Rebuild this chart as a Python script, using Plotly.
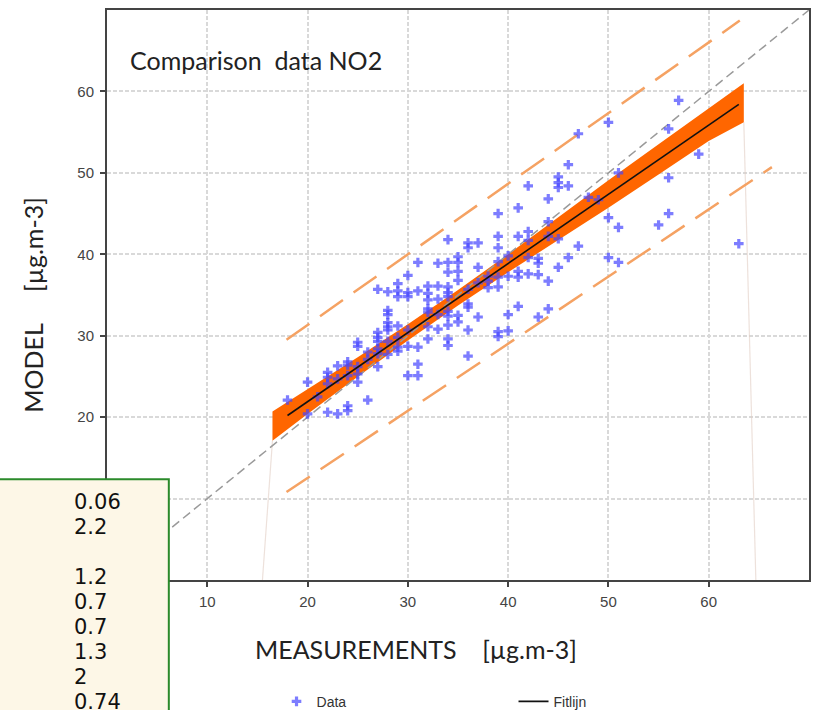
"""
Scatter of modelled vs measured NO2 with fit line, confidence band and prediction lines
"""

import plotly.graph_objects as go

## data
meas = [18,
        20, 20,
        21,
        22, 22, 22, 22,
        23, 23, 23,
        24, 24, 24, 24, 24,
        25, 25, 25, 25, 25,
        26, 26, 26,
        27, 27, 27, 27, 27, 27, 27,
        28, 28, 28, 28, 28, 28, 28, 28,
        29, 29, 29, 29, 29, 29, 29,
        30, 30, 30, 30, 30, 30,
        31, 31, 31, 31, 31,
        32, 32, 32, 32, 32, 32, 32,
        33, 33, 33, 33, 33,
        34, 34, 34, 34, 34, 34, 34, 34, 34, 34, 34,
        35, 35, 35, 35, 35, 35,
        36, 36, 36, 36, 36, 36, 36,
        37, 37, 37, 37,
        38, 38, 38,
        39, 39, 39, 39, 39, 39, 39, 39,
        40, 40, 40, 40,
        41, 41, 41, 41, 41,
        42, 42, 42, 42, 42,
        43, 43, 43, 43,
        44, 44, 44, 44, 44,
        45, 45, 45, 45, 45,
        46, 46, 46,
        47, 47,
        48, 49,
        50, 50, 50,
        51, 51, 51,
        55,
        56, 56, 56,
        57, 59, 63]
model = [22.1,
         24.3, 20.4,
         22.5,
         25.5, 24.9, 24.1, 20.6,
         26.3, 24.7, 20.4,
         26.8, 26.4, 25.1, 21.4, 20.8,
         29.2, 28.7, 26.2, 25.3, 24.3,
         28.0, 27.1, 22.1,
         35.7, 30.4, 29.8, 29.3, 28.4, 27.8, 26.2,
         35.4, 33.1, 32.6, 31.6, 31.1, 30.7, 29.3, 27.7,
         36.4, 35.5, 34.8, 31.2, 29.8, 28.6, 28.1,
         37.4, 35.3, 34.8, 30.7, 28.7, 25.1,
         39.0, 35.5, 28.6, 26.5, 25.1,
         36.1, 35.2, 34.4, 33.3, 32.9, 31.1, 29.6,
         38.9, 36.1, 34.5, 32.6, 30.8,
         41.8, 39.0, 37.8, 36.0, 35.3, 34.8, 33.0, 32.4, 31.3, 29.6, 28.8,
         39.7, 39.0, 37.9, 36.8, 32.5, 31.7,
         41.4, 40.8, 35.7, 33.9, 33.5, 30.7, 27.5,
         41.4, 38.4, 36.5, 32.3,
         37.3, 36.7, 35.9,
         45.0, 42.2, 40.8, 39.1, 37.2, 36.0, 30.5, 29.9,
         39.8, 37.3, 32.6, 30.6,
         45.7, 42.2, 37.9, 37.2, 33.6,
         48.4, 42.8, 41.7, 39.6, 37.6,
         39.5, 38.9, 37.5, 32.3,
         46.8, 44.0, 42.2, 36.7, 33.3,
         49.5, 48.8, 48.2, 41.9, 38.4,
         51.0, 48.4, 39.6,
         54.8, 41.0,
         47.0, 46.7,
         56.2, 44.5, 39.6,
         50.0, 43.3, 39.0,
         43.6,
         55.4, 49.4, 45.0,
         58.9, 52.3, 41.3]

fit_x = [18, 63]
fit_y = [20.2, 58.4]

band_x = [16.5, 20, 25, 30, 35, 40, 45, 50, 55, 60, 63.5]
band_hi = [20.7, 23.4, 27.35, 31.4, 35.6, 40.0, 44.55, 49.1, 53.5, 57.9, 61.0]
band_lo = [17.1, 20.4, 24.95, 29.4, 33.7, 37.8, 41.75, 45.7, 49.8, 53.9, 56.2]

pred_hi_x = [17.9, 63.1]
pred_hi_y = [29.5, 68.7]
pred_lo_x = [17.9, 66.3]
pred_lo_y = [10.8, 50.7]

diag = [0, 70]

# faint edge strokes under the band ends
edge_l_x = [16.5, 15.5]
edge_l_y = [17.1, 0]
edge_r_x = [63.5, 64.7]
edge_r_y = [56.2, 0]

ticks = [0, 10, 20, 30, 40, 50, 60]
stats = ['0.06', '2.2', '', '1.2', '0.7', '0.7', '1.3', '2', '0.74']

# figure is a bit taller than the window, the bottom strip is cut off like in the original
W, H = 813, 720
L, R, T, B = 107, 2, 10, 139
PW, PH = W - L - R, H - T - B


def px(x):
    return (x - L) / PW


def py(y):
    return (H - B - y) / PH


fig = go.Figure()

fig.add_trace(go.Scatter(x=edge_l_x, y=edge_l_y, mode='lines', showlegend=False, hoverinfo='skip',
                         line=dict(color='rgba(225,205,195,0.6)', width=1.2)))
fig.add_trace(go.Scatter(x=edge_r_x, y=edge_r_y, mode='lines', showlegend=False, hoverinfo='skip',
                         line=dict(color='rgba(225,205,195,0.6)', width=1.2)))

fig.add_trace(go.Scatter(x=band_x + band_x[::-1], y=band_hi + band_lo[::-1], fill='toself',
                         fillcolor='#ff6600', mode='lines', line=dict(width=0, color='#ff6600'),
                         showlegend=False, hoverinfo='skip'))

fig.add_trace(go.Scatter(x=diag, y=diag, mode='lines', showlegend=False,
                         line=dict(color='#9a9a9a', width=1.5, dash='9px,5px')))

fig.add_trace(go.Scatter(x=pred_hi_x, y=pred_hi_y, mode='lines', showlegend=False,
                         line=dict(color='#f5a263', width=2.5, dash='28px,13px')))
fig.add_trace(go.Scatter(x=pred_lo_x, y=pred_lo_y, mode='lines', showlegend=False,
                         line=dict(color='#f5a263', width=2.5, dash='28px,13px')))

fig.add_trace(go.Scatter(x=meas, y=model, mode='markers', name='Data',
                         marker=dict(symbol='cross', size=8, color='rgba(70,70,255,0.7)',
                                     line=dict(width=0))))

fig.add_trace(go.Scatter(x=fit_x, y=fit_y, mode='lines', name='Fitlijn',
                         line=dict(color='#111111', width=1.6)))

axis_common = dict(range=[0, 70], tickvals=ticks, showgrid=True, gridcolor='#d9d9d9', gridwidth=2,
                   griddash='4px,2px', zeroline=False, showline=True, linecolor='#444444', linewidth=2,
                   mirror=True, ticks='outside', ticklen=5, tickwidth=2, tickcolor='#444444',
                   tickfont=dict(family='Liberation Sans', size=15, color='#444444'))

fig.update_layout(
    width=W, height=H,
    margin=dict(l=L, r=R, t=T, b=B),
    paper_bgcolor='white', plot_bgcolor='white',
    xaxis=dict(axis_common, ticklabelstandoff=2),
    yaxis=dict(axis_common, ticklabelstandoff=3),
    showlegend=True,
    # legend box ends at the bottom edge so it does not push the margins
    legend=dict(orientation='h', x=px(277), y=py(H - 1), xanchor='left', yanchor='bottom',
                entrywidth=192, entrywidthmode='pixels', bgcolor='rgba(0,0,0,0)',
                font=dict(family='Liberation Sans', size=14, color='#333333')),
)

fig.add_annotation(text='Comparison  data NO2', xref='paper', yref='paper', x=px(128), y=py(60),
                   xanchor='left', yanchor='middle', showarrow=False,
                   font=dict(family='Lato', size=25, color='#222222'))
fig.add_annotation(text='MEASUREMENTS    [µg.m-3]', xref='paper', yref='paper', x=px(417), y=py(650),
                   xanchor='center', yanchor='middle', showarrow=False,
                   font=dict(family='Lato', size=25, color='#222222'))
fig.add_annotation(text='MODEL     [µg.m-3]', xref='paper', yref='paper', x=px(33), y=py(305),
                   xanchor='center', yanchor='middle', showarrow=False, textangle=-90,
                   font=dict(family='Lato', size=25, color='#222222'))

# statistics box in the lower left corner
fig.add_shape(type='rect', xref='paper', yref='paper', x0=px(-3), x1=px(169), y0=py(480), y1=py(730),
              fillcolor='#fdf7e7', line=dict(color='#2b8a2b', width=2), layer='above')
for i, s in enumerate(stats):
    if s:
        fig.add_annotation(text=s, xref='paper', yref='paper', x=px(72), y=py(503 + 25 * i),
                           xanchor='left', yanchor='middle', showarrow=False,
                           font=dict(family='DejaVu Sans', size=21, color='#111111'))

# pin the figure to the top-left corner of the window so the page is exactly the window
pin = ("var gd = document.getElementById('{plot_id}');"
       "gd.style.position='fixed'; gd.style.left='0px'; gd.style.top='0px';"
       "document.documentElement.style.overflow='hidden';"
       "document.body.style.margin='0'; document.body.style.overflow='hidden';")

fig.write_html('out.html', config={'displayModeBar': False}, post_script=pin)
